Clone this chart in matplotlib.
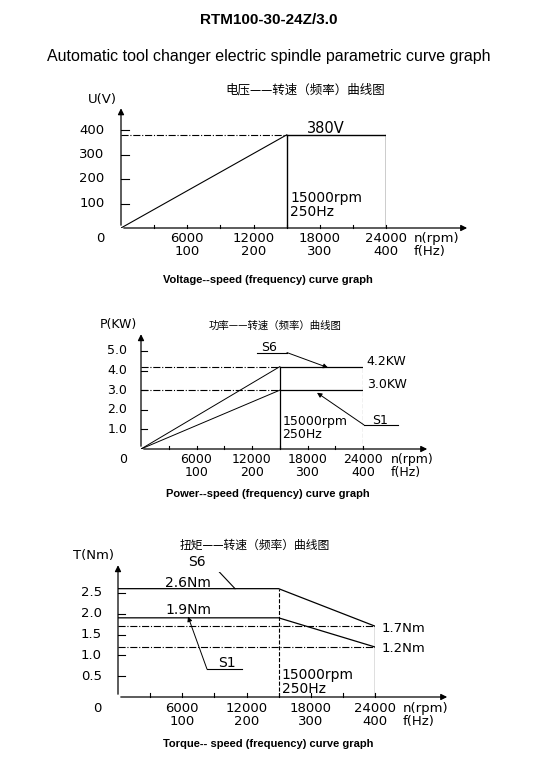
import matplotlib.pyplot as plt

plt.rcParams['font.family'] = ['DejaVu Sans', 'Noto Sans CJK SC']

# voltage chart
v_rpm = [0, 15000, 24000]
v_volt = [0, 380, 380]
# power chart
p_s6 = [0, 4.2, 4.2]
p_s1 = [0, 3.0, 3.0]
# torque chart
t_rpm = [0, 15000, 24000]
t_s6 = [2.6, 2.6, 1.7]
t_s1 = [1.9, 1.9, 1.2]

x_ticks = [6000, 12000, 18000, 24000]
hz_ticks = ['100', '200', '300', '400']

W, H = 538, 766
fig = plt.figure(figsize=(W / 100, H / 100), dpi=100)
fig.patch.set_facecolor('white')


def px_axes(left, bottom, right, top):
    ax = fig.add_axes([left / W, 1 - bottom / H, (right - left) / W, (bottom - top) / H])
    ax.set_axis_off()
    return ax


def frame(ax, xend, yend, yticks, ylabels, ylab, fs=9.5):
    kw = dict(arrowprops=dict(arrowstyle='-|>', color='black', lw=0.9, mutation_scale=9),
              annotation_clip=False)
    ax.annotate('', xy=(xend, 0), xytext=(0, 0), **kw)
    ax.annotate('', xy=(0, yend), xytext=(0, 0), **kw)
    ymax = ax.get_ylim()[1]
    for t in range(3000, 24001, 3000):
        ax.plot([t, t], [0, ymax * 0.035], color='black', lw=0.8, clip_on=False)
    for y, lab in zip(yticks, ylabels):
        ax.plot([0, 700], [y, y], color='black', lw=0.8, clip_on=False)
        ax.text(-1500, y, lab, ha='right', va='center', fontsize=fs)
    ax.text(-1500, -ymax * 0.04, '0', ha='right', va='top', fontsize=fs)
    for x, hz in zip(x_ticks, hz_ticks):
        ax.text(x, -ymax * 0.04, f'{x}\n{hz}', ha='center', va='top', fontsize=fs, linespacing=1.0)
    ax.annotate('n(rpm)\nf(Hz)', xy=(24000, -ymax * 0.04), xytext=(20, 0),
                textcoords='offset points', ha='left', va='top', fontsize=fs,
                linespacing=1.0, annotation_clip=False)
    ax.text(-400, yend, ylab, ha='right', va='bottom', fontsize=fs)


fig.text(0.5, 1 - 20 / H, 'RTM100-30-24Z/3.0', ha='center', va='center', fontsize=11,
         fontweight='bold', family='Liberation Sans')
fig.text(0.5, 1 - 56 / H, 'Automatic tool changer electric spindle parametric curve graph',
         ha='center', va='center', fontsize=11.5, family='Liberation Sans')

# ---- voltage
ax = px_axes(121, 228, 386, 130)
ax.set_xlim(0, 24000); ax.set_ylim(0, 400)
frame(ax, 31600, 500, [100, 200, 300, 400], ['100', '200', '300', '400'], 'U(V)')
ax.plot(v_rpm[:2], v_volt[:2], color='black', lw=0.8)
ax.plot([0, 15000], [380, 380], color='black', lw=0.8, ls='-.')
ax.plot(v_rpm[1:], v_volt[1:], color='black', lw=1.0)
ax.plot([15000, 15000], [0, 380], color='black', lw=1.0)
ax.plot([24000, 24000], [0, 380], color='black', lw=1.0)
ax.text(16800, 388, '380V', fontsize=10.5)
ax.text(15300, 150, '15000rpm\n250Hz', va='top', fontsize=10, linespacing=1.0)
fig.text(305 / W, 1 - 90 / H, '电压——转速（频率）曲线图', ha='center', va='center', fontsize=9,
         family='Noto Sans CJK SC')
fig.text(268 / W, 1 - 280 / H, 'Voltage--speed (frequency) curve graph', ha='center', va='center',
         fontsize=8, fontweight='bold', family='Liberation Sans')

# ---- power
ax = px_axes(141, 449, 363, 351)
ax.set_xlim(0, 24000); ax.set_ylim(0, 5)
frame(ax, 31240, 6.0, [1, 2, 3, 4, 5], ['1.0', '2.0', '3.0', '4.0', '5.0'], 'P(KW)', fs=9)
for s in (p_s6, p_s1):
    ax.plot(v_rpm[:2], s[:2], color='black', lw=0.7)
    ax.plot([0, 15000], [s[1], s[1]], color='black', lw=0.8, ls='-.')
    ax.plot(v_rpm[1:], s[1:], color='black', lw=0.9)
ax.plot([15000, 15000], [0, 4.2], color='black', lw=0.9)
ax.plot([24000, 24000], [0, 4.2], color='black', lw=0.8, ls='--')
ax.text(24400, 4.3, '4.2KW', fontsize=9)
ax.text(24400, 3.1, '3.0KW', fontsize=9)
ax.text(15300, 1.75, '15000rpm\n250Hz', va='top', fontsize=9, linespacing=1.0)
ax.plot([12540, 15780], [4.92, 4.92], color='black', lw=0.8)
ax.annotate('', xy=(20220, 4.15), xytext=(15780, 4.92),
            arrowprops=dict(arrowstyle='-|>', color='black', lw=0.7, mutation_scale=7,
                            shrinkA=0, shrinkB=0))
ax.text(13000, 4.98, 'S6', fontsize=9)
ax.plot([24100, 27780], [1.23, 1.23], color='black', lw=0.8, clip_on=False)
ax.annotate('', xy=(19030, 2.87), xytext=(24100, 1.23),
            arrowprops=dict(arrowstyle='-|>', color='black', lw=0.7, mutation_scale=7,
                            shrinkA=0, shrinkB=0))
ax.text(25000, 1.3, 'S1', fontsize=9)
fig.text(275 / W, 1 - 326 / H, '功率——转速（频率）曲线图', ha='center', va='center', fontsize=7.5,
         family='Noto Sans CJK SC')
fig.text(268 / W, 1 - 494 / H, 'Power--speed (frequency) curve graph', ha='center', va='center',
         fontsize=8, fontweight='bold', family='Liberation Sans')

# ---- torque
ax = px_axes(118, 697, 375, 572)
ax.set_xlim(0, 24000); ax.set_ylim(0, 3)
frame(ax, 31000, 3.23, [0.5, 1.0, 1.5, 2.0, 2.5], ['0.5', '1.0', '1.5', '2.0', '2.5'], 'T(Nm)')
ax.plot(t_rpm, t_s6, color='black', lw=0.9)
ax.plot(t_rpm, t_s1, color='black', lw=0.9)
ax.plot([0, 24000], [t_s6[2], t_s6[2]], color='black', lw=0.8, ls='-.')
ax.plot([0, 24000], [t_s1[2], t_s1[2]], color='black', lw=0.8, ls='-.')
ax.plot([15000, 15000], [0, 2.6], color='black', lw=0.8, ls='--')
ax.plot([24000, 24000], [0, 1.7], color='black', lw=0.9)
ax.text(4390, 2.64, '2.6Nm', fontsize=10)
ax.text(4390, 1.98, '1.9Nm', fontsize=10)
ax.text(24650, 1.64, '1.7Nm', ha='left', va='center', fontsize=9.5)
ax.text(24650, 1.17, '1.2Nm', ha='left', va='center', fontsize=9.5)
ax.text(15300, 0.7, '15000rpm\n250Hz', va='top', fontsize=10, linespacing=1.0)
ax.plot([6260, 9060], [3.11, 3.11], color='black', lw=0.8)
ax.plot([9060, 10930], [3.11, 2.6], color='black', lw=0.8)
ax.text(6540, 3.14, 'S6', fontsize=10)
ax.plot([8310, 11580], [0.67, 0.67], color='black', lw=0.8)
ax.annotate('', xy=(6540, 1.93), xytext=(8310, 0.67),
            arrowprops=dict(arrowstyle='-|>', color='black', lw=0.7, mutation_scale=7,
                            shrinkA=0, shrinkB=0))
ax.text(9340, 0.72, 'S1', fontsize=10)
fig.text(255 / W, 1 - 545 / H, '扭矩——转速（频率）曲线图', ha='center', va='center', fontsize=8.5,
         family='Noto Sans CJK SC')
fig.text(268 / W, 1 - 744 / H, 'Torque-- speed (frequency) curve graph', ha='center', va='center',
         fontsize=8, fontweight='bold', family='Liberation Sans')

fig.savefig('out.png', dpi=100)
